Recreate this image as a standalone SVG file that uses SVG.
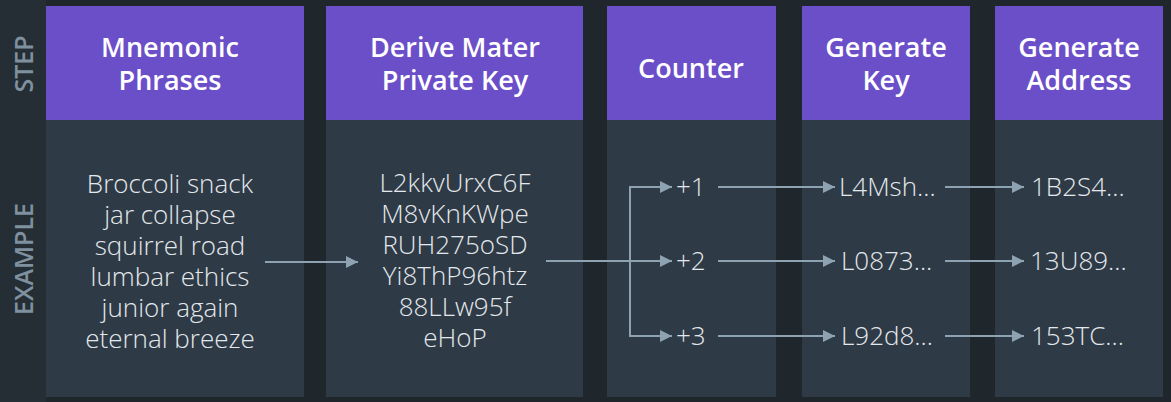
<svg xmlns="http://www.w3.org/2000/svg" width="1171" height="402" viewBox="0 0 1171 402">
<defs>
<style>
.hdr{fill:#6b4fc9}
.body{fill:#2e3a46}
.ht{font-family:"Open Sans","Noto Sans","Liberation Sans",sans-serif;font-weight:600;font-size:27px;fill:#ffffff;text-anchor:middle}
.bt{font-family:"Open Sans","Noto Sans","Liberation Sans",sans-serif;font-weight:300;font-size:26px;fill:#e4e8ec;text-anchor:middle}
.lt{font-family:"Open Sans","Noto Sans","Liberation Sans",sans-serif;font-weight:300;font-size:26px;fill:#e4e8ec}
.side{font-family:"Open Sans","Noto Sans","Liberation Sans",sans-serif;font-weight:600;font-size:25px;fill:#7f909f;text-anchor:middle}
.c{stroke:#8ea2b2;stroke-width:2;fill:none}
</style>
<marker id="ah" viewBox="0 0 10 10" refX="10" refY="5" markerWidth="6" markerHeight="6" orient="auto" markerUnits="strokeWidth">
<path d="M0,0 L10,5 L0,10 Z" fill="#8ea2b2"/>
</marker>
</defs>
<rect x="0" y="0" width="1171" height="402" fill="#1f262c"/>
<rect x="0" y="0" width="46" height="402" fill="#262e35"/>
<g id="side-labels">
<text class="side" transform="translate(33,64) rotate(-90)">STEP</text>
<text class="side" transform="translate(33,259) rotate(-90)">EXAMPLE</text>
</g>
<g id="mnemonic">
<rect class="hdr" x="46" y="6" width="258" height="114"/>
<rect class="body" x="46" y="120" width="258" height="277"/>
<text class="ht" x="170" y="57">Mnemonic</text>
<text class="ht" x="170" y="90">Phrases</text>
<text class="bt" x="170" y="193">Broccoli snack</text>
<text class="bt" x="170" y="224">jar collapse</text>
<text class="bt" x="170" y="255">squirrel road</text>
<text class="bt" x="170" y="286">lumbar ethics</text>
<text class="bt" x="170" y="317">junior again</text>
<text class="bt" x="170" y="348">eternal breeze</text>
</g>
<g id="master-key">
<rect class="hdr" x="326" y="6" width="257" height="114"/>
<rect class="body" x="326" y="120" width="257" height="277"/>
<text class="ht" x="455" y="57">Derive Mater</text>
<text class="ht" x="455" y="90">Private Key</text>
<text class="bt" x="455" y="192">L2kkvUrxC6F</text>
<text class="bt" x="455" y="223">M8vKnKWpe</text>
<text class="bt" x="455" y="254">RUH275oSD</text>
<text class="bt" x="455" y="285">Yi8ThP96htz</text>
<text class="bt" x="455" y="316">88LLw95f</text>
<text class="bt" x="455" y="347">eHoP</text>
</g>
<g id="counter">
<rect class="hdr" x="607" y="6" width="169" height="114"/>
<rect class="body" x="607" y="120" width="169" height="277"/>
<text class="ht" x="691" y="78">Counter</text>
<text class="lt" x="676" y="196">+1</text>
<text class="lt" x="676" y="270">+2</text>
<text class="lt" x="676" y="345">+3</text>
</g>
<g id="generate-key">
<rect class="hdr" x="802" y="6" width="168" height="114"/>
<rect class="body" x="802" y="120" width="168" height="277"/>
<text class="ht" x="886" y="57">Generate</text>
<text class="ht" x="886" y="90">Key</text>
<text class="lt" x="839" y="196">L4Msh...</text>
<text class="lt" x="841" y="270">L0873...</text>
<text class="lt" x="841" y="345">L92d8...</text>
</g>
<g id="generate-address">
<rect class="hdr" x="995" y="6" width="168" height="114"/>
<rect class="body" x="995" y="120" width="168" height="277"/>
<text class="ht" x="1079" y="57">Generate</text>
<text class="ht" x="1079" y="90">Address</text>
<text class="lt" x="1031" y="196">1B2S4...</text>
<text class="lt" x="1030" y="270">13U89...</text>
<text class="lt" x="1031" y="345">153TC...</text>
</g>
<g id="connectors">
<line class="c" x1="265" y1="262" x2="358" y2="262" marker-end="url(#ah)"/>
<line class="c" x1="546" y1="261" x2="672" y2="261" marker-end="url(#ah)"/>
<polyline class="c" points="672,187 630,187 630,336 672,336" marker-end="url(#ah)"/>
<line class="c" x1="630" y1="187" x2="672" y2="187" marker-end="url(#ah)"/>
<line class="c" x1="718" y1="187" x2="835" y2="187" marker-end="url(#ah)"/>
<line class="c" x1="718" y1="261" x2="835" y2="261" marker-end="url(#ah)"/>
<line class="c" x1="718" y1="336" x2="835" y2="336" marker-end="url(#ah)"/>
<line class="c" x1="945" y1="187" x2="1024" y2="187" marker-end="url(#ah)"/>
<line class="c" x1="945" y1="261" x2="1024" y2="261" marker-end="url(#ah)"/>
<line class="c" x1="945" y1="336" x2="1024" y2="336" marker-end="url(#ah)"/>
</g>
</svg>
